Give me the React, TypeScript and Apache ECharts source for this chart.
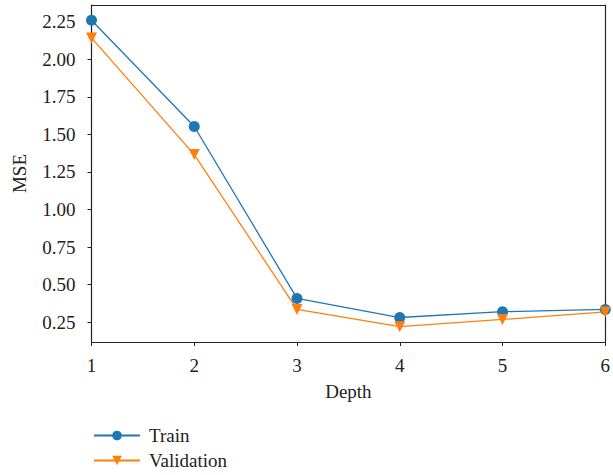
import React, { useEffect, useRef } from "react";
import * as echarts from "echarts";

const depths = [1, 2, 3, 4, 5, 6];
const trainMSE = [2.26, 1.553, 0.408, 0.281, 0.32, 0.335];
const validationMSE = [2.143, 1.366, 0.335, 0.22, 0.268, 0.318];
const yTicks = [0.25, 0.5, 0.75, 1.0, 1.25, 1.5, 1.75, 2.0, 2.25];

const FONT = "'Liberation Serif', 'DejaVu Serif', serif";
const INK = "#222";

export default function App() {
  const ref = useRef<HTMLDivElement>(null);
  useEffect(() => {
    if (!ref.current) return;
    const chart = echarts.init(ref.current, undefined, { renderer: "svg" });
    const yMin = 0.118;
    const yMax = 2.362;
    chart.setOption({
      animation: false,
      backgroundColor: "#fff",
      grid: { left: 91.5, right: 3.5, top: 5, bottom: 133, containLabel: false },
      legend: {
        orient: "vertical",
        left: 88,
        top: 421,
        height: 54,
        itemWidth: 46,
        itemHeight: 12,
        itemGap: 6,
        textStyle: { fontFamily: FONT, fontSize: 19, color: INK, padding: [0, 0, 0, 4] },
        data: ["Train", "Validation"],
      },
      xAxis: [
        {
          type: "value",
          min: 1,
          max: 6,
          interval: 1,
          name: "Depth",
          nameLocation: "middle",
          nameGap: 40,
          nameTextStyle: { fontFamily: FONT, fontSize: 19, color: INK },
          axisLine: { show: true, lineStyle: { color: INK, width: 1.2 } },
          axisTick: { show: true, length: 4, lineStyle: { color: INK } },
          axisLabel: { fontFamily: FONT, fontSize: 19, color: INK, margin: 14 },
          splitLine: { show: false },
        },
        {
          type: "value",
          position: "top",
          min: 1,
          max: 6,
          axisLine: { show: true, onZero: false, lineStyle: { color: INK, width: 1.2 } },
          axisTick: { show: false },
          axisLabel: { show: false },
          splitLine: { show: false },
        },
      ],
      yAxis: [
        {
          type: "value",
          min: yMin,
          max: yMax,
          name: "MSE",
          nameLocation: "middle",
          nameRotate: 90,
          nameGap: 63,
          nameTextStyle: { fontFamily: FONT, fontSize: 19, color: INK },
          axisLine: { show: true, onZero: false, lineStyle: { color: INK, width: 1.2 } },
          axisTick: { show: true, length: 4, customValues: yTicks, lineStyle: { color: INK } },
          axisLabel: {
            fontFamily: FONT,
            fontSize: 19,
            color: INK,
            margin: 16,
            customValues: yTicks,
            formatter: (v: number) => v.toFixed(2),
          },
          splitLine: { show: false },
        },
        {
          type: "value",
          position: "right",
          min: yMin,
          max: yMax,
          axisLine: { show: true, onZero: false, lineStyle: { color: INK, width: 1.2 } },
          axisTick: { show: false },
          axisLabel: { show: false },
          splitLine: { show: false },
        },
      ],
      series: [
        {
          name: "Train",
          type: "line",
          data: depths.map((d, i) => [d, trainMSE[i]]),
          color: "#1f77b4",
          lineStyle: { width: 1.3 },
          symbol: "circle",
          symbolSize: 11,
          itemStyle: { color: "#1f77b4" },
          z: 2,
        },
        {
          name: "Validation",
          type: "line",
          data: depths.map((d, i) => [d, validationMSE[i]]),
          color: "#ff7f0e",
          lineStyle: { width: 1.3 },
          symbol: "triangle",
          symbolRotate: 180,
          symbolSize: 11,
          itemStyle: { color: "#ff7f0e" },
          z: 3,
        },
      ],
    });
    return () => chart.dispose();
  }, []);
  return <div ref={ref} style={{ width: 613, height: 475, position: "absolute", left: 0, top: 0 }} />;
}
